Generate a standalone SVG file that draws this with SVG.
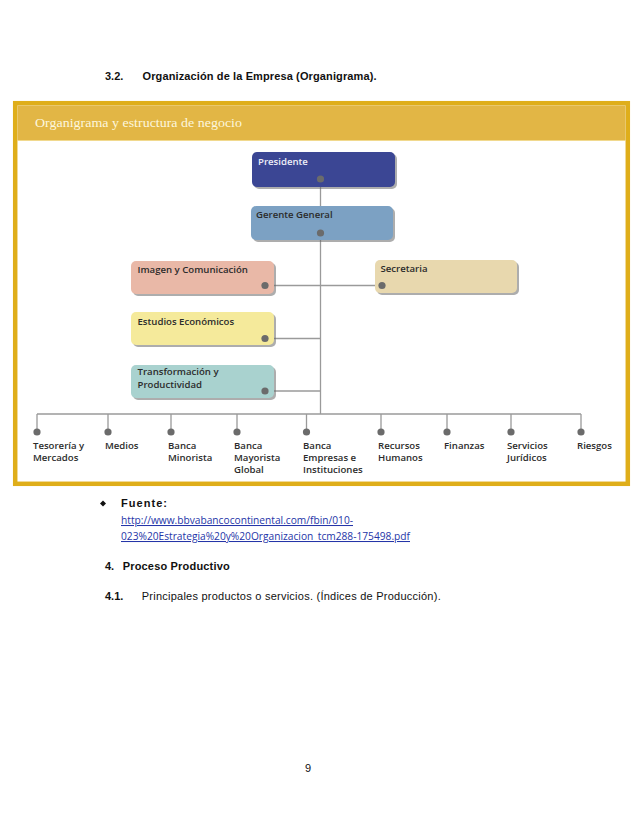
<svg xmlns="http://www.w3.org/2000/svg" width="638" height="826" viewBox="0 0 638 826">
<defs>
<style>
.doc{font-family:"Liberation Sans",Arial,sans-serif;fill:#111;font-size:11px}
.b{font-weight:bold}
.url{font-family:"Open Sans","Liberation Sans",sans-serif;font-size:10.3px;fill:#2535a8;text-decoration:underline}
.lbl{font-family:"Open Sans","DejaVu Sans",sans-serif;font-weight:600;font-size:9.6px;fill:#2b2b2b}
.box{stroke:none}
.sh{fill:#6a6a6a;opacity:0.55}
.ln{stroke:#9a9a9a;stroke-width:1.3;fill:none}
.dot{fill:#6b6b6b}
</style>
</defs>
<rect width="638" height="826" fill="#ffffff"/>

<g id="heading">
<text class="doc b" x="105" y="80">3.2.</text>
<text class="doc b" x="142.5" y="80" textLength="234" lengthAdjust="spacing">Organización de la Empresa (Organigrama).</text>
</g>

<g id="frame">
<rect x="15.2" y="103.2" width="612.6" height="380.6" fill="#ffffff" stroke="#dfae1a" stroke-width="4.5"/>
<rect x="17.5" y="105.5" width="608" height="35" fill="#e2b645"/>
<line x1="17.5" y1="140.5" x2="625.5" y2="140.5" stroke="#f1d98e" stroke-width="1"/>
<text x="35" y="127" font-family="'Liberation Serif','Times New Roman',serif" font-size="13.3" fill="#fdf6de" textLength="207" lengthAdjust="spacingAndGlyphs">Organigrama y estructura de negocio</text>
</g>

<g id="connectors">
<line class="ln" x1="320.5" y1="179" x2="320.5" y2="414"/>
<line class="ln" x1="265" y1="285.5" x2="382" y2="285.5"/>
<line class="ln" x1="265" y1="338.5" x2="320.5" y2="338.5"/>
<line class="ln" x1="265" y1="391" x2="320.5" y2="391"/>
<line class="ln" x1="37" y1="414" x2="581" y2="414"/>
<line class="ln" x1="37" y1="414" x2="37" y2="432"/>
<line class="ln" x1="108" y1="414" x2="108" y2="432"/>
<line class="ln" x1="171" y1="414" x2="171" y2="432"/>
<line class="ln" x1="237" y1="414" x2="237" y2="432"/>
<line class="ln" x1="306.5" y1="414" x2="306.5" y2="432"/>
<line class="ln" x1="381" y1="414" x2="381" y2="432"/>
<line class="ln" x1="447" y1="414" x2="447" y2="432"/>
<line class="ln" x1="511" y1="414" x2="511" y2="432"/>
<line class="ln" x1="581" y1="414" x2="581" y2="432"/>
<circle class="dot" cx="37" cy="432" r="3.6"/>
<circle class="dot" cx="108" cy="432" r="3.6"/>
<circle class="dot" cx="171" cy="432" r="3.6"/>
<circle class="dot" cx="237" cy="432" r="3.6"/>
<circle class="dot" cx="306.5" cy="432" r="3.6"/>
<circle class="dot" cx="381" cy="432" r="3.6"/>
<circle class="dot" cx="447" cy="432" r="3.6"/>
<circle class="dot" cx="511" cy="432" r="3.6"/>
<circle class="dot" cx="581" cy="432" r="3.6"/>
</g>

<g id="presidente">
<rect class="sh" x="254" y="154" width="143" height="35" rx="5"/>
<rect class="box" x="252" y="152" width="143" height="35" rx="5" fill="#3b4694"/>
<text class="lbl" x="258" y="165" style="fill:#eeeef8">Presidente</text>
<circle class="dot" cx="320.5" cy="179" r="3.6"/>
</g>

<g id="gerente">
<rect class="sh" x="253" y="208" width="142" height="34" rx="5"/>
<rect class="box" x="251" y="206" width="142" height="34" rx="5" fill="#7ca1c3"/>
<text class="lbl" x="256" y="218">Gerente General</text>
<circle class="dot" cx="320.5" cy="233" r="3.6"/>
</g>

<g id="imagen">
<rect class="sh" x="133" y="263" width="143" height="33" rx="5"/>
<rect class="box" x="131" y="261" width="143" height="33" rx="5" fill="#e9b8a7"/>
<text class="lbl" x="137.5" y="273">Imagen y Comunicación</text>
<circle class="dot" cx="265" cy="285.5" r="3.6"/>
</g>

<g id="secretaria">
<rect class="sh" x="377" y="262" width="142" height="33" rx="5"/>
<rect class="box" x="375" y="260" width="142" height="33" rx="5" fill="#e8d8ae"/>
<text class="lbl" x="380.5" y="272">Secretaria</text>
<circle class="dot" cx="382" cy="285.5" r="3.6"/>
</g>

<g id="estudios">
<rect class="sh" x="133" y="314" width="143" height="33" rx="5"/>
<rect class="box" x="131" y="312" width="143" height="33" rx="5" fill="#f5ea9b"/>
<text class="lbl" x="137.5" y="325">Estudios Económicos</text>
<circle class="dot" cx="265" cy="338.5" r="3.6"/>
</g>

<g id="transformacion">
<rect class="sh" x="133" y="367" width="143" height="33" rx="5"/>
<rect class="box" x="131" y="365" width="143" height="33" rx="5" fill="#a9d2cf"/>
<text class="lbl" x="137.5" y="375">Transformación y</text>
<text class="lbl" x="137.5" y="388">Productividad</text>
<circle class="dot" cx="265" cy="391" r="3.6"/>
</g>

<g id="tesoreria"><text class="lbl" x="33" y="448.5">Tesorería y</text><text class="lbl" x="33" y="460.5">Mercados</text></g>
<g id="medios"><text class="lbl" x="105" y="448.5">Medios</text></g>
<g id="minorista"><text class="lbl" x="168" y="448.5">Banca</text><text class="lbl" x="168" y="460.5">Minorista</text></g>
<g id="mayorista"><text class="lbl" x="234" y="448.5">Banca</text><text class="lbl" x="234" y="460.5">Mayorista</text><text class="lbl" x="234" y="472.5">Global</text></g>
<g id="empresas"><text class="lbl" x="303" y="448.5">Banca</text><text class="lbl" x="303" y="460.5">Empresas e</text><text class="lbl" x="303" y="472.5">Instituciones</text></g>
<g id="rrhh"><text class="lbl" x="378" y="448.5">Recursos</text><text class="lbl" x="378" y="460.5">Humanos</text></g>
<g id="finanzas"><text class="lbl" x="444" y="448.5">Finanzas</text></g>
<g id="juridicos"><text class="lbl" x="507" y="448.5">Servicios</text><text class="lbl" x="507" y="460.5">Jurídicos</text></g>
<g id="riesgos"><text class="lbl" x="577" y="448.5">Riesgos</text></g>

<g id="fuente">
<polygon points="103,500.5 106,503.5 103,506.5 100,503.5" fill="#111"/>
<text class="doc b" x="121" y="507" font-size="11.5" textLength="46" lengthAdjust="spacing">Fuente:</text>
<text class="url" x="121" y="524" textLength="232" lengthAdjust="spacingAndGlyphs">http://www.bbvabancocontinental.com/fbin/010-</text>
<text class="url" x="121" y="540" textLength="289" lengthAdjust="spacingAndGlyphs">023%20Estrategia%20y%20Organizacion_tcm288-175498.pdf</text>
</g>

<g id="section4">
<text class="doc b" x="105" y="570">4.</text>
<text class="doc b" x="122.7" y="570" textLength="107" lengthAdjust="spacing">Proceso Productivo</text>
<text class="doc b" x="105" y="600">4.1.</text>
<text class="doc" x="141.7" y="600" textLength="299" lengthAdjust="spacing">Principales productos o servicios. (Índices de Producción).</text>
</g>

<g id="page">
<text class="doc" x="305" y="772" font-size="10">9</text>
</g>
</svg>
